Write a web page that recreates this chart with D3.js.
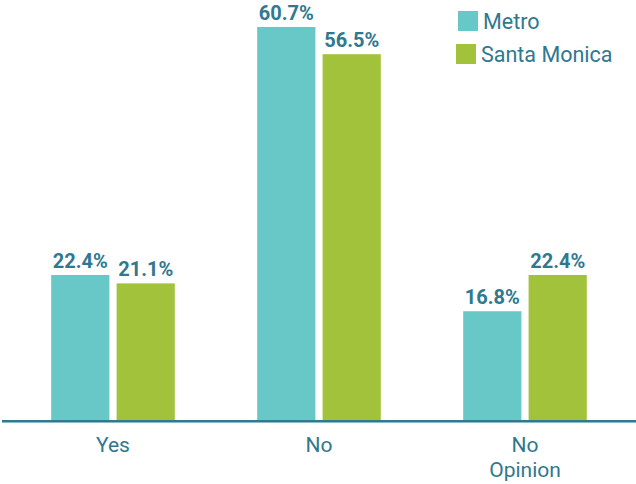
<!DOCTYPE html>
<html lang="en">
<head>
    <meta charset="UTF-8" />
    <title>Metro vs Santa Monica</title>
    <script src="https://d3js.org/d3.v7.min.js"></script>
    <style>
        body {
            margin: 0;
            background: #fff;
            font-family: Roboto, Arial, sans-serif;
        }
        .value { font-weight: bold; font-size: 20px; fill: #2f7890; }
        .cat { font-size: 21px; fill: #2f7890; }
        .legend text { font-size: 21.5px; fill: #2f7890; }
    </style>
</head>
<body>
    <script>
        // data
        const categories = ['Yes', 'No', 'No Opinion'];
        const series = ['Metro', 'Santa Monica'];
        const metro = [22.4, 60.7, 16.8];
        const santaMonica = [21.1, 56.5, 22.4];
        const colors = ['#68c8c7', '#a3c23c'];

        const width = 636, height = 484;
        const baseline = 420;

        const rows = categories.map((c, i) => ({
            cat: c,
            values: [
                { key: series[0], v: metro[i] },
                { key: series[1], v: santaMonica[i] }
            ]
        }));

        const svg = d3.select('body').append('svg').attr('width', width).attr('height', height);

        const x0 = d3.scaleBand().domain(categories).range([10, 628]).paddingInner(0.4).paddingOuter(0.2);
        const x1 = d3.scaleBand().domain(series).range([0, x0.bandwidth()]).paddingInner(0.11);
        const y = d3.scaleLinear().domain([0, 60.7]).range([baseline, 27]);
        const color = d3.scaleOrdinal().domain(series).range(colors);

        const groups = svg.selectAll('g.grp')
            .data(rows)
            .enter()
            .append('g')
            .attr('class', 'grp')
            .attr('transform', (d) => `translate(${x0(d.cat)},0)`);

        groups.selectAll('rect')
            .data((d) => d.values)
            .enter()
            .append('rect')
            .attr('x', (d) => x1(d.key))
            .attr('y', (d) => y(d.v))
            .attr('width', x1.bandwidth())
            .attr('height', (d) => baseline - y(d.v))
            .attr('fill', (d) => color(d.key));

        groups.selectAll('text.value')
            .data((d) => d.values)
            .enter()
            .append('text')
            .attr('class', 'value')
            .attr('x', (d) => x1(d.key) + x1.bandwidth() / 2)
            .attr('y', (d) => y(d.v) - 7)
            .attr('text-anchor', 'middle')
            .text((d) => d.v.toFixed(1) + '%');

        // axis line
        svg.append('line')
            .attr('x1', 2).attr('x2', width)
            .attr('y1', baseline + 1).attr('y2', baseline + 1)
            .attr('stroke', '#2e7a8f').attr('stroke-width', 2);
        svg.append('line')
            .attr('x1', 2).attr('x2', width)
            .attr('y1', baseline + 2.5).attr('y2', baseline + 2.5)
            .attr('stroke', '#8fb8c6').attr('stroke-width', 1);

        // category labels (wrap on space for long ones)
        const catText = svg.selectAll('text.cat')
            .data(categories)
            .enter()
            .append('text')
            .attr('class', 'cat')
            .attr('text-anchor', 'middle')
            .attr('y', 452);
        catText.each(function (d) {
            const words = d.length > 5 ? d.split(' ') : [d];
            d3.select(this).selectAll('tspan')
                .data(words)
                .enter()
                .append('tspan')
                .attr('x', x0(d) + x0.bandwidth() / 2)
                .attr('dy', (w, i) => (i === 0 ? 0 : 25))
                .text((w) => w);
        });

        // legend
        const legend = svg.append('g').attr('class', 'legend');
        const legendPos = [{ x: 458, y: 11, ty: 29 }, { x: 456, y: 44, ty: 62 }];
        series.forEach((s, i) => {
            legend.append('rect')
                .attr('x', legendPos[i].x).attr('y', legendPos[i].y)
                .attr('width', 20).attr('height', 20)
                .attr('fill', color(s));
            legend.append('text')
                .attr('x', legendPos[i].x + 25).attr('y', legendPos[i].ty)
                .text(s);
        });
    </script>
</body>
</html>
